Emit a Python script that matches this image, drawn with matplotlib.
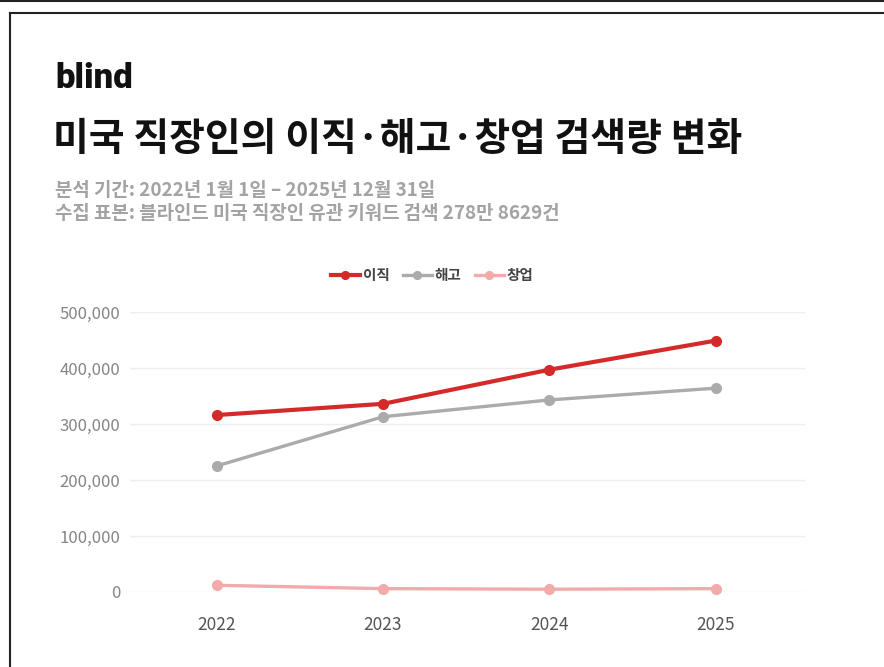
import matplotlib
matplotlib.use("Agg")
import matplotlib.pyplot as plt
from matplotlib.lines import Line2D
from matplotlib.ticker import FuncFormatter

plt.rcParams['font.family'] = ['Noto Sans CJK KR', 'DejaVu Sans']

years = ["2022", "2023", "2024", "2025"]
series_names = ["이직", "해고", "창업"]
job_change = [316000, 336000, 397000, 449000]
layoff = [225000, 313000, 343000, 364000]
startup = [12000, 6000, 5000, 6000]
y_ticks = [0, 100000, 200000, 300000, 400000, 500000]

colors = ["#d42a2a", "#ababab", "#f3aaaa"]
values = [job_change, layoff, startup]

W, H = 884, 667
fig = plt.figure(figsize=(W / 100, H / 100), dpi=100)
fig.patch.set_facecolor("white")

# border decorations
fig.add_artist(Line2D([0, 1], [1 - 0.8 / H, 1 - 0.8 / H], color="#222222", lw=1.5, transform=fig.transFigure))
fig.add_artist(Line2D([9.5 / W, 1], [1 - 13 / H, 1 - 13 / H], color="#222222", lw=1.5, transform=fig.transFigure))
fig.add_artist(Line2D([9.5 / W, 9.5 / W], [1 - 13 / H, 0], color="#222222", lw=1.5, transform=fig.transFigure))

fig.text(55 / W, 1 - 78 / H, "blind", fontsize=25, fontweight="heavy", color="#111111",
         va="center", ha="left", family=["Roboto", "DejaVu Sans"])
fig.text(53 / W, 1 - 139 / H, "미국 직장인의 이직·해고·창업 검색량 변화", fontsize=28,
         fontweight="heavy", color="#111111", va="center", ha="left")
fig.text(55 / W, 1 - 191 / H, "분석 기간: 2022년 1월 1일 – 2025년 12월 31일", fontsize=13.6,
         fontweight="bold", color="#a3a3a3", va="center", ha="left")
fig.text(55 / W, 1 - 213 / H, "수집 표본: 블라인드 미국 직장인 유관 키워드 검색 278만 8629건", fontsize=13.6,
         fontweight="bold", color="#a3a3a3", va="center", ha="left")

ax = fig.add_axes([130 / W, 1 - 592 / H, 675 / W, 280 / H])
x = list(range(len(years)))
lws = [3.0, 2.4, 2.4]
for name, vals, c, lw in zip(series_names, values, colors, lws):
    ax.plot(x, vals, color=c, lw=lw, marker="o", markersize=7, label=name, clip_on=False, zorder=3)

ax.set_xlim(-0.52, 3.535)
ax.set_ylim(0, 500000)
ax.set_yticks(y_ticks)
ax.yaxis.set_major_formatter(FuncFormatter(lambda v, p: f"{int(v):,}"))
ax.set_xticks(x)
ax.set_xticklabels(years)
ax.grid(axis="y", color="#eeeeee", lw=1)
ax.set_axisbelow(True)
for s in ax.spines.values():
    s.set_visible(False)
ax.tick_params(axis="both", length=0)
ax.tick_params(axis="y", pad=7, labelsize=12, labelcolor="#858585")
ax.tick_params(axis="x", pad=17, labelsize=12.5, labelcolor="#555555")
for t in ax.get_yticklabels():
    t.set_fontweight("medium")
for t in ax.get_xticklabels():
    t.set_fontweight("medium")

leg = ax.legend(loc="center", bbox_to_anchor=(432 / W, 1 - 275 / H), bbox_transform=fig.transFigure,
                ncol=3, frameon=False, fontsize=10.5, handlelength=2.0, handletextpad=0.2,
                columnspacing=0.9, markerscale=0.8)
for t in leg.get_texts():
    t.set_color("#444444")
    t.set_fontweight("bold")

fig.savefig("out.png", dpi=100, facecolor="white")
